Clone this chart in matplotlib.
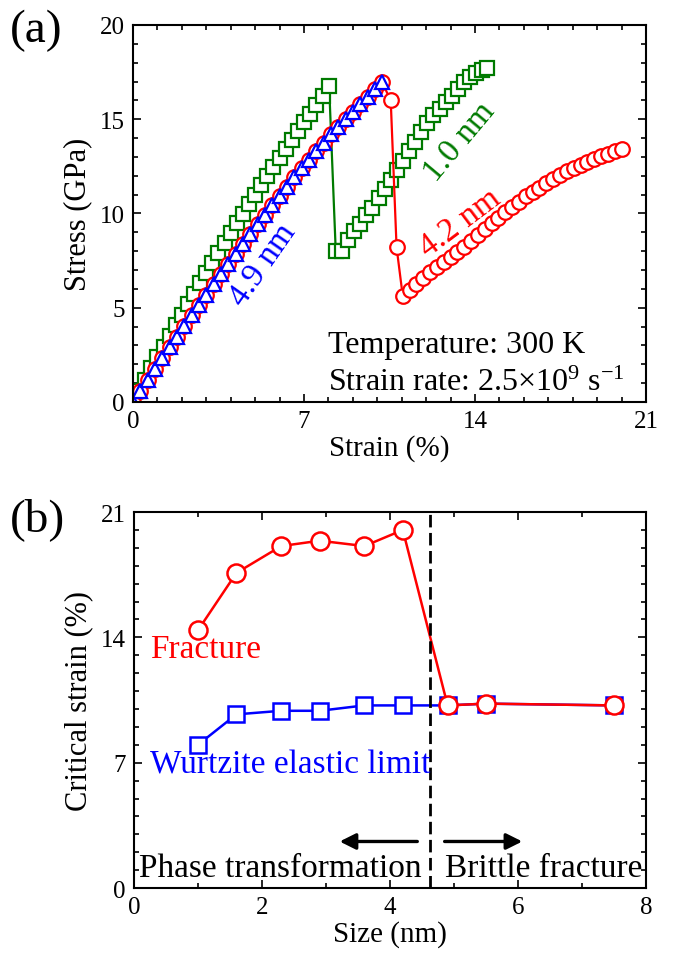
import matplotlib
matplotlib.use("Agg")
import matplotlib.pyplot as plt
from matplotlib.ticker import MultipleLocator

plt.rcParams["font.family"] = ["Liberation Serif", "DejaVu Serif"]
plt.rcParams["mathtext.fontset"] = "custom"
plt.rcParams["mathtext.rm"] = "Liberation Serif"
plt.rcParams["mathtext.it"] = "Liberation Serif:italic"

RED, GREEN, BLUE = "#ff0000", "#007a00", "#0000ff"

# ── (a) stress-strain curves ─────────────────────────────────────────────────────
# 4.9 nm (blue triangles)
strain_49 = [0, 0.3, 0.6, 0.9, 1.2, 1.5, 1.8, 2.1, 2.4, 2.7, 3.0, 3.3, 3.6, 3.9, 4.2, 4.5,
             4.8, 5.1, 5.4, 5.7, 6.0, 6.3, 6.6, 6.9, 7.2, 7.5, 7.8, 8.1, 8.4, 8.7, 9.0, 9.3,
             9.6, 9.9, 10.2]
stress_49 = [0, 0.59, 1.17, 1.76, 2.33, 2.90, 3.47, 4.04, 4.59, 5.15, 5.70, 6.24, 6.78, 7.32,
             7.85, 8.38, 8.90, 9.42, 9.93, 10.44, 10.95, 11.43, 11.91, 12.39, 12.85, 13.30,
             13.75, 14.19, 14.59, 15.00, 15.40, 15.80, 16.20, 16.58, 16.95]

# 4.2 nm (red circles): loading, drop, post-transformation branch
strain_42 = [0, 0.3, 0.6, 0.9, 1.2, 1.5, 1.8, 2.1, 2.4, 2.7, 3.0, 3.3, 3.6, 3.9, 4.2, 4.5,
             4.8, 5.1, 5.4, 5.7, 6.0, 6.3, 6.6, 6.9, 7.2, 7.5, 7.8, 8.1, 8.4, 8.7, 9.0, 9.3,
             9.6, 9.9, 10.2, 10.55, 10.79,
             11.04, 11.32, 11.60, 11.88, 12.16, 12.44, 12.72, 13.00, 13.28, 13.56, 13.84,
             14.12, 14.40, 14.68, 14.96, 15.24, 15.52, 15.80, 16.08, 16.36, 16.64, 16.92,
             17.20, 17.48, 17.76, 18.04, 18.32, 18.60, 18.88, 19.16, 19.44, 19.72, 20.00]
stress_42 = [0, 0.59, 1.17, 1.76, 2.33, 2.90, 3.47, 4.04, 4.59, 5.15, 5.70, 6.24, 6.78, 7.32,
             7.85, 8.38, 8.90, 9.42, 9.93, 10.44, 10.95, 11.43, 11.91, 12.39, 12.85, 13.30,
             13.75, 14.19, 14.59, 15.00, 15.40, 15.80, 16.20, 16.58, 16.95, 16.00, 8.20,
             5.64, 5.95, 6.26, 6.57, 6.88, 7.15, 7.42, 7.70, 7.97, 8.24, 8.55,
             8.86, 9.17, 9.48, 9.78, 10.06, 10.34, 10.62, 10.90, 11.13, 11.36, 11.60,
             11.83, 12.06, 12.24, 12.40, 12.57, 12.73, 12.89, 13.07, 13.18, 13.30, 13.42]

# 1.0 nm (green squares)
strain_10 = [0, 0.25, 0.5, 0.75, 1.0, 1.25, 1.5, 1.75, 2.0, 2.25, 2.5, 2.75, 3.0, 3.25, 3.5,
             3.75, 4.0, 4.25, 4.5, 4.75, 5.0, 5.25, 5.5, 5.75, 6.0, 6.25, 6.5, 6.75, 7.0,
             7.25, 7.5, 7.78, 8.03,
             8.30, 8.55, 8.80, 9.05, 9.30, 9.55, 9.80, 10.05, 10.30, 10.55, 10.80, 11.05,
             11.30, 11.55, 11.80, 12.05, 12.30, 12.55, 12.80, 13.05, 13.30, 13.55, 13.80,
             14.05, 14.28, 14.48]
stress_10 = [0, 0.60, 1.19, 1.78, 2.36, 2.94, 3.51, 4.08, 4.64, 5.20, 5.75, 6.30, 6.84, 7.38,
             7.91, 8.44, 8.96, 9.48, 9.99, 10.50, 11.00, 11.50, 11.99, 12.48, 12.96, 13.44,
             13.91, 14.38, 14.84, 15.30, 15.75, 16.25, 16.74,
             7.99, 8.00, 8.60, 9.05, 9.45, 9.90, 10.30, 10.80, 11.30, 11.80, 12.30, 12.80,
             13.30, 13.80, 14.30, 14.80, 15.20, 15.55, 15.90, 16.25, 16.60, 16.95, 17.25,
             17.45, 17.60, 17.72]

# ── (b) critical strain vs size ─────────────────────────────────────────────────
size_nm = [1.0, 1.6, 2.3, 2.9, 3.6, 4.2, 4.9, 5.5, 7.5]
fracture = [14.4, 17.6, 19.1, 19.4, 19.1, 20.0, 10.2, 10.3, 10.2]
elastic = [8.0, 9.7, 9.9, 9.9, 10.2, 10.2, 10.2, 10.3, 10.2]
boundary = 4.63

fig = plt.figure(figsize=(6.73, 9.54), dpi=100)
ax1 = fig.add_axes([0.1976, 0.5776, 0.7623, 0.3952])
ax2 = fig.add_axes([0.1991, 0.0681, 0.7608, 0.3941])

ms = 10.5
ax1.plot(strain_10, stress_10, "-s", color=GREEN, mfc="white", mec=GREEN, ms=ms, mew=1.6, lw=1.6)
ax1.plot(strain_42, stress_42, "-o", color=RED, mfc="white", mec=RED, ms=ms, mew=1.6, lw=1.6)
ax1.plot(strain_49, stress_49, "-^", color=BLUE, mfc="white", mec=BLUE, ms=ms, mew=1.6, lw=1.6)

ax1.set_xlim(0, 21); ax1.set_ylim(0, 20)
ax1.xaxis.set_major_locator(MultipleLocator(7)); ax1.xaxis.set_minor_locator(MultipleLocator(1))
ax1.yaxis.set_major_locator(MultipleLocator(5)); ax1.yaxis.set_minor_locator(MultipleLocator(1))
ax1.set_xlabel("Strain (%)", fontsize=21, labelpad=1)
ax1.set_ylabel("Stress (GPa)", fontsize=22, labelpad=5)
lab = dict(fontsize=24, ha="center", va="center", rotation_mode="anchor")
ax1.text(5.33, 7.3, "4.9 nm", color=BLUE, rotation=55, **lab)
ax1.text(13.35, 13.85, "1.0 nm", color=GREEN, rotation=50, **lab)
ax1.text(13.39, 9.55, "4.2 nm", color=RED, rotation=37, **lab)
ax1.text(7.98, 2.67, "Temperature: 300 K", fontsize=23, ha="left", va="baseline")
ax1.text(7.98, 0.65, r"Strain rate: 2.5$\times$10$^{9}$ s$^{-1}$", fontsize=23,
         ha="left", va="baseline")
fig.text(0.015, 0.99, "(a)", fontsize=34, ha="left", va="top")

ax2.plot(size_nm, elastic, "-s", color=BLUE, mfc="white", mec=BLUE, ms=11, mew=1.8, lw=1.8)
ax2.plot(size_nm, fracture, "-o", color=RED, mfc="white", mec=RED, ms=13, mew=1.8, lw=1.8)
ax2.axvline(boundary, color="black", ls=(0, (4.5, 2)), lw=2)
arr = dict(arrowstyle="-|>", color="black", lw=2.4, mutation_scale=24)
ax2.annotate("", xy=(3.17, 2.6), xytext=(4.47, 2.6), arrowprops=arr)
ax2.annotate("", xy=(6.11, 2.6), xytext=(4.81, 2.6), arrowprops=arr)
ax2.text(0.08, 0.65, "Phase transformation", fontsize=24, ha="left", va="baseline")
ax2.text(4.86, 0.65, "Brittle fracture", fontsize=24, ha="left", va="baseline")
ax2.text(0.25, 12.9, "Fracture", color=RED, fontsize=24, ha="left", va="baseline")
ax2.text(0.25, 6.48, "Wurtzite elastic limit", color=BLUE, fontsize=24, ha="left", va="baseline")

ax2.set_xlim(0, 8); ax2.set_ylim(0, 21)
ax2.xaxis.set_major_locator(MultipleLocator(2)); ax2.xaxis.set_minor_locator(MultipleLocator(1))
ax2.yaxis.set_major_locator(MultipleLocator(7)); ax2.yaxis.set_minor_locator(MultipleLocator(1))
ax2.set_xlabel("Size (nm)", fontsize=21, labelpad=1)
ax2.set_ylabel("Critical strain (%)", fontsize=22, labelpad=5)
fig.text(0.015, 0.478, "(b)", fontsize=34, ha="left", va="top")

for ax in (ax1, ax2):
    ax.tick_params(which="both", direction="in", top=True, right=True, labelsize=18, width=1.2)
    ax.tick_params(which="major", length=6, pad=6)
    ax.tick_params(which="minor", length=3.5)
    for s in ax.spines.values():
        s.set_linewidth(1.5)

fig.savefig("out.png", dpi=100)
